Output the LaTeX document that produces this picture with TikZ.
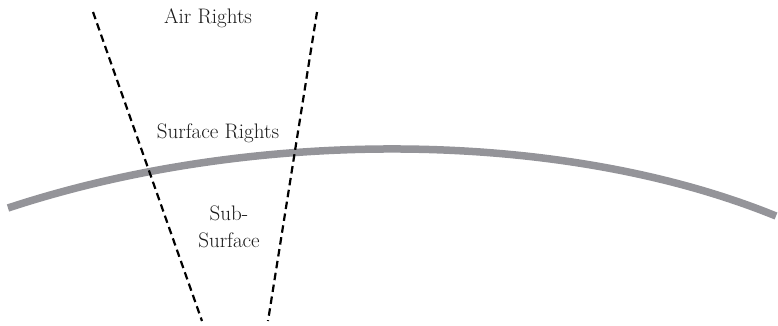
\documentclass[tikz,border=0pt]{standalone}
\usetikzlibrary{positioning}
\definecolor{arcgray}{RGB}{148,148,153}
\definecolor{txtgray}{RGB}{25,25,25}

\begin{document}
\begin{tikzpicture}[line cap=butt,line join=round,x=1pt,y=-1pt,
		rightslabel/.style={text=txtgray,font=\fontsize{21}{27}\selectfont,align=center,inner sep=0pt},
		boundary/.style={line width=2.2pt,dash pattern=on 7.5pt off 4.5pt,color=black}]
		\useasboundingbox (0,0) rectangle (778,325);
		% ground surface
		\draw [line width=7.5pt,color=arcgray] (8,208) .. controls (250,128) and (560,128) .. (776,216);
		% ownership boundaries
		\coordinate (lefttop) at (93,12);
		\coordinate (leftbot) at (202,321);
		\coordinate (righttop) at (317,12);
		\coordinate (rightbot) at (268,321);
		\draw [boundary] (lefttop) -- (leftbot);
		\draw [boundary] (righttop) -- (rightbot);
		% labels
		\node [rightslabel] (air) at (208,18) {Air Rights};
		\node [rightslabel] (surface) at (218,133) {Surface Rights};
		\node [rightslabel] (sub) at (229,227) {Sub-\\Surface};
	\end{tikzpicture}
\end{document}
